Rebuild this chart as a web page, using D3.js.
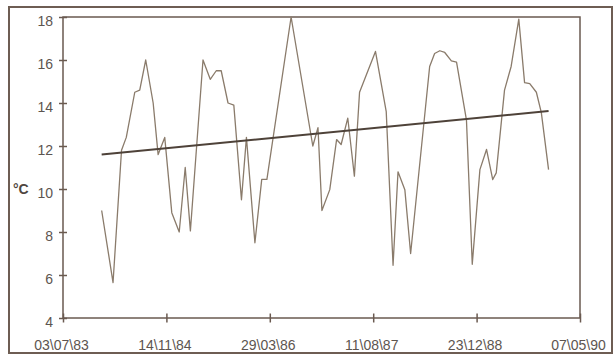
<!DOCTYPE html>
<html>
<head>
<meta charset="utf-8">
<script src="https://cdn.jsdelivr.net/npm/d3@7"></script>
<style>
  body { margin: 0; background: #fff; }
  text { font-family: "Liberation Sans", Arial, sans-serif; }
</style>
</head>
<body>
<div id="chart"></div>
<script>
// measured temperatures (date, °C)
var dates = [
  "1984-01-06", "1984-03-01", "1984-04-11", "1984-05-04", "1984-06-14", "1984-07-08",
  "1984-08-06", "1984-09-11", "1984-10-05", "1984-11-06", "1984-12-10",
  "1985-01-15", "1985-02-13", "1985-03-10", "1985-05-10", "1985-06-14", "1985-07-13",
  "1985-08-06", "1985-09-08", "1985-10-06", "1985-11-12", "1985-12-06",
  "1986-01-16", "1986-02-18", "1986-03-15", "1986-07-10", "1986-10-23", "1986-11-17",
  "1986-12-06",
  "1987-01-13", "1987-02-15", "1987-03-09", "1987-04-10", "1987-05-12", "1987-06-06",
  "1987-08-22", "1987-10-13", "1987-11-15", "1987-12-09",
  "1988-01-11", "1988-02-08", "1988-05-10", "1988-06-03", "1988-06-28", "1988-07-22",
  "1988-08-23", "1988-09-17", "1988-11-04", "1988-12-02",
  "1989-01-08", "1989-02-09", "1989-03-11", "1989-03-28", "1989-05-07", "1989-06-08",
  "1989-07-15", "1989-08-12", "1989-09-06", "1989-10-08", "1989-11-01", "1989-12-06"
];
var temps = [
  9.0, 5.65, 11.8, 12.4, 14.5, 14.6,
  16.0, 14.0, 11.6, 12.4, 8.9,
  8.0, 11.0, 8.05, 16.0, 15.1, 15.5,
  15.5, 14.0, 13.9, 9.5, 12.4,
  7.5, 10.45, 10.45, 18.0, 12.0, 12.85,
  9.0,
  9.97, 12.3, 12.07, 13.3, 10.6, 14.5,
  16.4, 13.6, 6.45, 10.8,
  9.97, 7.0, 15.7, 16.3, 16.43, 16.35,
  15.96, 15.9, 13.2, 6.5,
  10.9, 11.84, 10.44, 10.75, 14.6, 15.7,
  17.9, 14.95, 14.9, 14.5, 13.55, 10.9
];

// linear trend, start and end
var trendDates = ["1984-01-06", "1989-12-06"];
var trendTemps = [11.6, 13.63];

var xTickDates = ["1983-07-03", "1984-11-14", "1986-03-29", "1987-08-11", "1988-12-23", "1990-05-07"];
var yTicks = [4, 6, 8, 10, 12, 14, 16, 18];

var width = 616, height = 356;
var margin = {top: 17, right: 36, bottom: 38, left: 63};

var parse = d3.timeParse("%Y-%m-%d");

var svg = d3.select("#chart")
    .append("svg")
    .attr("width", width)
    .attr("height", height);

// outer frame
svg.append("rect")
    .attr("x", 9)
    .attr("y", 7)
    .attr("width", 603)
    .attr("height", 346)
    .attr("fill", "none")
    .attr("stroke", "#6e5d53")
    .attr("stroke-width", 2);

var plot = svg.append("g")
    .attr("transform", `translate(${margin.left}, ${margin.top})`);

var plotW = width - margin.left - margin.right;
var plotH = height - margin.top - margin.bottom;

var x = d3.scaleTime()
    .domain([parse(xTickDates[0]), parse(xTickDates[xTickDates.length - 1])])
    .range([0, plotW]);

var y = d3.scaleLinear()
    .domain([4, 18])
    .range([plotH, 0]);

// plot box
plot.append("rect")
    .attr("x", 0)
    .attr("y", 0)
    .attr("width", plotW)
    .attr("height", plotH)
    .attr("fill", "none")
    .attr("stroke", "#6a5a50")
    .attr("stroke-width", 1.5);

var yAxis = plot.append("g")
    .call(d3.axisLeft(y).tickValues(yTicks).tickSize(4).tickPadding(6));
yAxis.select(".domain").remove();
yAxis.selectAll(".tick line")
    .attr("x1", 4)
    .attr("stroke", "#6a5a50")
    .attr("stroke-width", 1.5);
yAxis.selectAll(".tick text")
    .attr("dy", "0.62em")
    .style("font-size", "14px")
    .attr("fill", "#5d5550");

var xAxis = plot.append("g")
    .attr("transform", `translate(0, ${plotH})`)
    .call(d3.axisBottom(x)
        .tickValues(xTickDates.map(parse))
        .tickFormat(d3.timeFormat("%d\\%m\\%y"))
        .tickSize(4.5));
xAxis.select(".domain").remove();
xAxis.selectAll(".tick line")
    .attr("y1", -4.5)
    .attr("stroke", "#6a5a50")
    .attr("stroke-width", 1.5);
xAxis.selectAll(".tick text")
    .attr("y", 32)
    .attr("dy", 0)
    .attr("dx", -2)
    .style("font-size", "14px")
    .attr("fill", "#5d5550");

svg.append("text")
    .attr("x", 13)
    .attr("y", 194)
    .style("font-size", "14px")
    .style("font-weight", "bold")
    .attr("fill", "#4f4640")
    .text("°C");

var series = dates.map(function(d, i) { return {date: parse(d), value: temps[i]}; });
var trend = trendDates.map(function(d, i) { return {date: parse(d), value: trendTemps[i]}; });

var line = d3.line()
    .x(function(d) { return x(d.date); })
    .y(function(d) { return y(d.value); });

plot.append("path")
    .datum(series)
    .attr("d", line)
    .attr("fill", "none")
    .attr("stroke", "#8a7b6b")
    .attr("stroke-width", 1.3)
    .attr("stroke-linejoin", "round");

plot.append("path")
    .datum(trend)
    .attr("d", line)
    .attr("fill", "none")
    .attr("stroke", "#4e4239")
    .attr("stroke-width", 2);
</script>
</body>
</html>
